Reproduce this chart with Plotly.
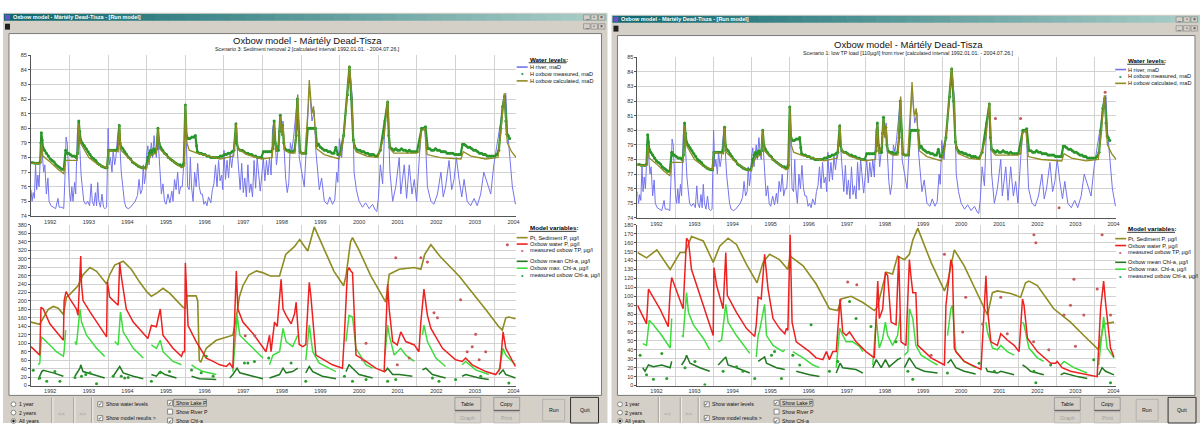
import plotly.graph_objects as go

W, H = 1203, 426
FONT = "Liberation Sans, Arial, sans-serif"

# ---------------- texts ----------------
WIN_TITLE = "Oxbow model - Mártély Dead-Tisza - [Run model]"
TITLE = "Oxbow model - Mártély Dead-Tisza"
SUB_L = "Scenario 3: Sediment removal 2 [calculated interval 1992.01.01. - 2004.07.26.]"
SUB_R = "Scenario 1: low TP load [110µg/l] from river [calculated interval 1992.01.01. - 2004.07.26.]"
WL_TITLE = "Water levels:"
WL_LEG = ["H river, maD", "H oxbow measured, maD", "H oxbow calculated, maD"]
MV_TITLE = "Model variables:"
MV_LEG = ["Pt, Sediment P, µg/l", "Oxbow water P, µg/l", "measured oxbow TP, µg/l",
          "Oxbow mean Chl-a, µg/l", "Oxbow max. Chl-a, µg/l", "measured oxbow Chl-a, µg/l"]
YEARS = list(range(1992, 2005))
YEAR_LABELS = [str(y) for y in YEARS]
T_START, T_END = 1992.0, 2004.57

# ---------------- water levels (both windows) ----------------
H_RIVER = [
(1992.00,75.8),(1992.03,75.0),(1992.06,75.6),(1992.09,75.2),(1992.12,77.5),(1992.15,75.8),(1992.18,76.8),
(1992.21,76.0),(1992.24,77.8),(1992.27,79.7),(1992.30,78.0),(1992.33,77.0),(1992.36,77.5),(1992.40,75.5),
(1992.44,76.6),(1992.47,75.0),(1992.52,74.7),(1992.58,74.6),(1992.64,74.5),(1992.70,75.2),(1992.73,74.6),
(1992.80,74.6),(1992.85,74.5),(1992.88,76.5),(1992.91,79.4),(1992.94,79.0),(1992.97,77.2),(1993.00,75.6),
(1993.03,75.0),(1993.06,76.0),(1993.09,75.0),(1993.13,76.3),(1993.16,75.5),(1993.20,79.5),(1993.23,80.5),
(1993.26,78.5),(1993.30,76.8),(1993.33,76.0),(1993.37,75.0),(1993.42,74.8),(1993.47,75.0),(1993.52,74.7),
(1993.56,76.2),(1993.59,75.0),(1993.63,74.7),(1993.67,75.6),(1993.70,74.7),(1993.73,76.3),(1993.76,75.0),
(1993.80,74.6),(1993.84,75.5),(1993.88,74.6),(1993.92,74.5),(1993.96,74.6),(1994.00,80.0),(1994.03,77.5),
(1994.06,78.0),(1994.10,77.0),(1994.13,78.5),(1994.17,77.5),(1994.20,78.0),(1994.24,79.3),(1994.28,80.3),
(1994.31,78.5),(1994.34,77.0),(1994.38,76.0),(1994.42,75.0),(1994.46,74.6),(1994.52,74.5),(1994.58,74.6),
(1994.65,74.8),(1994.70,75.0),(1994.76,75.4),(1994.80,76.5),(1994.84,75.5),(1994.88,75.8),(1994.91,77.5),
(1994.94,76.2),(1994.97,76.8),(1995.00,78.3),(1995.03,78.8),(1995.06,77.5),(1995.09,78.3),(1995.12,79.0),
(1995.15,78.0),(1995.19,79.5),(1995.22,78.5),(1995.25,78.0),(1995.28,79.8),(1995.31,78.5),(1995.34,77.0),
(1995.38,75.5),(1995.42,76.2),(1995.46,75.0),(1995.50,74.8),(1995.55,75.5),(1995.60,74.9),(1995.65,75.7),
(1995.68,75.0),(1995.72,76.5),(1995.76,75.8),(1995.80,77.0),(1995.84,75.5),(1995.88,76.0),(1995.92,76.0),
(1995.97,78.0),(1996.00,81.5),(1996.03,78.5),(1996.06,76.0),(1996.10,75.8),(1996.13,78.0),(1996.16,76.0),
(1996.20,75.0),(1996.24,77.0),(1996.28,76.0),(1996.32,77.6),(1996.36,76.0),(1996.40,75.5),(1996.44,75.5),
(1996.48,74.8),(1996.52,75.0),(1996.56,74.7),(1996.60,75.3),(1996.66,74.9),(1996.70,75.8),(1996.74,76.2),
(1996.78,77.5),(1996.82,76.0),(1996.86,77.8),(1996.90,76.4),(1996.94,76.8),(1996.97,75.8),(1997.00,78.5),
(1997.04,76.5),(1997.08,77.8),(1997.12,76.6),(1997.16,78.2),(1997.20,77.3),(1997.24,78.5),(1997.28,79.5),
(1997.32,80.4),(1997.35,78.3),(1997.38,77.0),(1997.42,75.8),(1997.46,77.6),(1997.50,75.6),(1997.54,76.6),
(1997.58,75.3),(1997.62,77.5),(1997.66,75.6),(1997.70,76.2),(1997.74,75.3),(1997.78,77.8),(1997.82,75.9),
(1997.86,78.0),(1997.90,76.5),(1997.94,75.7),(1997.98,76.8),(1998.02,78.0),(1998.06,76.4),(1998.10,77.8),
(1998.14,76.8),(1998.18,78.0),(1998.22,76.8),(1998.26,80.0),(1998.30,80.5),(1998.33,78.5),(1998.36,77.5),
(1998.40,78.5),(1998.43,79.8),(1998.46,80.9),(1998.50,79.5),(1998.53,80.5),(1998.56,78.5),(1998.60,76.5),
(1998.64,75.6),(1998.68,76.3),(1998.72,79.0),(1998.76,78.5),(1998.80,79.3),(1998.84,80.5),(1998.88,81.5),
(1998.91,82.3),(1998.95,78.0),(1999.02,77.0),(1999.08,76.0),(1999.12,78.0),(1999.17,80.5),(1999.21,82.8),
(1999.28,80.5),(1999.34,81.2),(1999.38,78.5),(1999.42,77.0),(1999.47,75.8),(1999.53,76.6),(1999.60,75.0),
(1999.68,74.8),(1999.74,75.3),(1999.81,74.8),(1999.87,75.1),(1999.92,77.0),(1999.95,76.3),(1999.99,79.3),
(2000.05,78.0),(2000.12,80.2),(2000.20,82.5),(2000.26,84.0),(2000.33,82.0),(2000.37,77.0),(2000.43,75.8),
(2000.50,75.0),(2000.59,74.6),(2000.67,74.9),(2000.76,74.5),(2000.85,74.8),(2000.92,74.4),(2000.96,74.3),
(2001.00,75.2),(2001.05,77.5),(2001.11,76.2),(2001.17,80.5),(2001.24,81.7),(2001.30,77.0),(2001.37,75.0),
(2001.45,76.0),(2001.54,78.0),(2001.58,75.5),(2001.67,77.5),(2001.73,75.2),(2001.80,77.5),(2001.87,75.5),
(2001.93,76.5),(2001.99,75.0),(2002.06,78.0),(2002.12,80.0),(2002.21,79.8),(2002.27,76.0),(2002.36,75.0),
(2002.44,74.8),(2002.53,75.5),(2002.62,77.0),(2002.68,75.3),(2002.74,76.0),(2002.83,77.8),(2002.90,75.8),
(2002.96,76.5),(2003.02,78.0),(2003.09,76.5),(2003.16,75.3),(2003.22,76.5),(2003.30,75.0),(2003.39,74.7),
(2003.48,75.2),(2003.56,74.7),(2003.65,75.5),(2003.73,77.0),(2003.82,76.3),(2003.91,75.5),(2003.99,77.5),
(2004.08,79.0),(2004.17,80.5),(2004.24,82.0),(2004.30,82.4),(2004.34,80.0),(2004.40,78.0),(2004.47,76.0),
(2004.55,74.8)]

H_OXBOW_CALC = [
(1992.00,77.6),(1992.25,77.6),(1992.27,79.0),(1992.31,78.1),(1992.50,77.7),(1992.70,77.2),(1992.85,76.9),
(1992.90,77.8),(1993.20,77.8),(1993.24,80.3),(1993.28,79.0),(1993.50,78.0),(1993.75,77.5),(1993.97,77.3),
(1994.00,78.5),(1994.26,78.4),(1994.29,80.2),(1994.33,78.5),(1994.60,77.8),(1994.80,77.4),(1994.98,77.2),
(1995.05,77.8),(1995.12,78.2),(1995.25,78.3),(1995.29,80.0),(1995.33,78.6),(1995.60,77.9),(1995.90,77.3),
(1995.97,77.4),(1996.00,81.6),(1996.04,79.0),(1996.10,78.5),(1996.30,78.3),(1996.60,78.1),(1996.90,77.9),
(1997.25,78.1),(1997.32,80.3),(1997.36,78.6),(1997.60,78.2),(1997.98,77.9),(1998.25,78.0),(1998.30,80.4),
(1998.34,78.4),(1998.42,79.0),(1998.46,80.8),(1998.50,79.5),(1998.53,80.3),(1998.57,78.5),(1998.70,78.3),
(1998.84,78.3),(1998.88,80.5),(1998.91,82.3),(1998.94,79.5),(1998.97,78.3),(1999.10,78.3),(1999.17,81.0),
(1999.21,83.3),(1999.25,81.5),(1999.28,81.0),(1999.32,81.5),(1999.36,80.0),(1999.40,78.6),(1999.60,78.2),
(1999.98,77.9),(2000.05,78.5),(2000.12,80.0),(2000.20,82.5),(2000.25,84.3),(2000.30,82.5),(2000.36,79.0),
(2000.42,78.4),(2000.70,78.1),(2000.99,78.0),(2001.15,79.5),(2001.24,81.9),(2001.30,78.6),(2001.40,78.3),
(2001.99,78.3),(2002.06,78.4),(2002.11,79.8),(2002.20,80.0),(2002.26,78.2),(2002.60,78.0),(2003.14,77.9),
(2003.20,78.4),(2003.40,78.1),(2003.78,77.9),(2004.10,78.0),(2004.18,80.0),(2004.26,82.4),(2004.31,80.0),
(2004.34,79.0),(2004.45,78.4),(2004.57,78.0)]

H_OXBOW_MEAS = [
(1992.00,77.65),(1992.05,77.65),(1992.10,77.6),(1992.15,77.6),(1992.20,77.6),(1992.24,77.7),(1992.26,79.0),
(1992.27,79.7),(1992.29,79.2),(1992.31,78.7),(1992.35,78.5),(1992.40,78.3),(1992.45,78.1),(1992.50,77.9),
(1992.55,77.8),(1992.60,77.7),(1992.65,77.5),(1992.70,77.4),(1992.75,77.3),(1992.80,77.2),(1992.85,77.2),
(1992.90,78.5),(1992.93,78.3),(1992.97,78.3),(1993.02,78.2),(1993.07,78.1),(1993.12,78.1),(1993.17,78.0),
(1993.21,78.3),(1993.24,80.5),(1993.26,79.8),(1993.29,79.2),(1993.33,79.0),(1993.38,78.8),(1993.43,78.6),
(1993.48,78.4),(1993.53,78.2),(1993.58,78.0),(1993.63,77.9),(1993.68,77.8),(1993.73,77.6),(1993.78,77.5),
(1993.83,77.4),(1993.88,77.35),(1993.93,77.3),(1993.97,77.3),(1994.01,78.5),(1994.05,78.5),(1994.10,78.5),
(1994.15,78.5),(1994.20,78.5),(1994.25,78.6),(1994.29,80.2),(1994.31,79.0),(1994.34,78.7),(1994.38,78.6),
(1994.43,78.4),(1994.48,78.2),(1994.53,78.0),(1994.58,77.9),(1994.63,77.7),(1994.68,77.6),(1994.73,77.5),
(1994.78,77.4),(1994.83,77.35),(1994.88,77.3),(1994.93,77.3),(1994.98,77.3),(1995.03,78.0),(1995.06,78.3),
(1995.10,78.5),(1995.14,78.2),(1995.18,78.6),(1995.22,78.4),(1995.26,78.6),(1995.29,80.0),(1995.32,79.0),
(1995.36,78.7),(1995.41,78.5),(1995.46,78.3),(1995.51,78.2),(1995.56,78.0),(1995.61,77.9),(1995.66,77.8),
(1995.71,77.7),(1995.76,77.6),(1995.81,77.5),(1995.86,77.5),(1995.91,77.4),(1995.96,77.6),(1996.00,81.6),
(1996.03,79.5),(1996.07,79.3),(1996.12,79.3),(1996.17,79.4),(1996.22,79.4),(1996.26,79.5),(1996.29,78.8),
(1996.31,78.4),(1996.36,78.3),(1996.41,78.3),(1996.46,78.2),(1996.51,78.2),(1996.56,78.1),(1996.61,78.1),
(1996.66,78.0),(1996.71,78.0),(1996.76,78.0),(1996.81,78.0),(1996.86,78.0),(1996.91,78.1),(1996.96,78.1),
(1997.01,78.2),(1997.06,78.2),(1997.11,78.3),(1997.16,78.3),(1997.21,78.4),(1997.26,78.5),(1997.31,80.3),
(1997.33,79.0),(1997.37,78.6),(1997.42,78.5),(1997.47,78.5),(1997.52,78.4),(1997.57,78.3),(1997.62,78.3),
(1997.67,78.2),(1997.72,78.2),(1997.77,78.1),(1997.82,78.1),(1997.87,78.0),(1997.92,78.0),(1997.97,78.0),
(1998.02,78.4),(1998.07,78.4),(1998.12,78.4),(1998.17,78.4),(1998.22,78.4),(1998.27,78.6),(1998.30,80.5),
(1998.33,79.0),(1998.37,78.5),(1998.41,78.5),(1998.44,79.8),(1998.46,80.9),(1998.49,80.0),(1998.52,80.2),
(1998.55,79.0),(1998.58,78.6),(1998.63,78.5),(1998.68,78.5),(1998.73,78.4),(1998.78,78.4),(1998.83,78.5),
(1998.87,79.5),(1998.90,82.0),(1998.93,80.0),(1998.97,78.4),(1999.02,78.3),(1999.07,78.3),(1999.12,78.3),
(1999.17,80.0),(1999.22,80.0),(1999.27,80.0),(1999.32,80.0),(1999.37,80.0),(1999.41,78.8),(1999.45,78.9),
(1999.50,78.7),(1999.55,78.6),(1999.60,78.5),(1999.65,78.5),(1999.70,78.4),(1999.75,78.4),(1999.80,78.3),
(1999.85,78.3),(1999.90,78.7),(1999.95,78.2),(2000.00,78.2),(2000.10,79.5),(2000.20,82.3),(2000.25,84.2),
(2000.30,82.0),(2000.35,79.2),(2000.38,78.8),(2000.42,78.6),(2000.47,78.5),(2000.52,78.5),(2000.57,78.4),
(2000.62,78.4),(2000.67,78.3),(2000.72,78.3),(2000.77,78.2),(2000.82,78.2),(2000.87,78.2),(2000.92,78.1),
(2000.97,78.1),(2001.05,78.5),(2001.17,80.5),(2001.24,81.8),(2001.27,79.5),(2001.30,78.7),(2001.35,78.6),
(2001.40,78.5),(2001.45,78.6),(2001.50,78.5),(2001.55,78.5),(2001.60,78.6),(2001.65,78.5),(2001.70,78.5),
(2001.75,78.4),(2001.80,78.5),(2001.85,78.4),(2001.90,78.4),(2001.95,78.4),(2002.00,78.4),(2002.12,80.0),
(2002.17,80.0),(2002.22,80.1),(2002.28,78.6),(2002.33,78.6),(2002.38,78.5),(2002.43,78.5),(2002.48,78.6),
(2002.53,78.5),(2002.58,78.5),(2002.63,78.4),(2002.68,78.4),(2002.73,78.4),(2002.78,78.3),(2002.83,78.3),
(2002.88,78.3),(2002.93,78.3),(2002.98,78.2),(2003.03,78.2),(2003.08,78.2),(2003.13,78.2),(2003.18,78.9),
(2003.22,78.9),(2003.27,78.8),(2003.32,78.7),(2003.37,78.7),(2003.42,78.6),(2003.47,78.5),(2003.52,78.5),
(2003.57,78.4),(2003.62,78.3),(2003.67,78.3),(2003.72,78.2),(2003.77,78.2),(2003.82,78.1),(2003.87,78.1),
(2003.92,78.1),(2003.97,78.1),(2004.02,78.1),(2004.07,78.2),(2004.12,78.5),(2004.17,80.0),(2004.22,81.5),
(2004.27,82.2),(2004.30,80.5),(2004.33,79.6),(2004.36,79.5),(2004.40,79.3)]

H_OXBOW_MEAS_R_EXTRA = [(2001.40,80.8),(2002.06,80.8),(2003.07,74.7),(2004.28,82.6)]

# ---------------- model variables, left window (scenario 3) ----------------
L_SED_P = [
(1992.00,150),(1992.23,145),(1992.32,160),(1992.45,180),(1992.58,187),(1992.71,183),(1992.84,168),
(1992.92,209),(1993.00,215),(1993.22,236),(1993.35,262),(1993.53,279),(1993.70,270),(1993.96,240),
(1994.04,262),(1994.17,285),(1994.39,294),(1994.60,275),(1994.82,244),(1995.00,222),(1995.12,211),
(1995.25,218),(1995.42,230),(1995.60,218),(1995.94,185),(1996.00,183),(1996.03,212),(1996.28,212),
(1996.32,200),(1996.36,60),(1996.40,55),(1996.54,88),(1996.80,107),(1997.00,112),(1997.23,119),
(1997.30,150),(1997.40,210),(1997.49,236),(1997.65,262),(1997.84,271),(1998.00,267),(1998.20,259),
(1998.44,259),(1998.60,310),(1998.83,329),(1998.96,345),(1999.17,318),(1999.34,375),(1999.60,320),
(1999.85,270),(2000.10,236),(2000.16,259),(2000.28,340),(2000.33,350),(2000.50,320),(2000.80,260),
(2001.19,197),(2001.28,263),(2001.54,275),(2001.93,279),(2002.10,275),(2002.20,310),(2002.36,333),
(2002.60,305),(2003.09,259),(2003.43,221),(2003.78,180),(2004.12,139),(2004.21,131),(2004.30,160),
(2004.38,162),(2004.55,158)]

L_WATER_P = [
(1992.00,92),(1992.23,72),(1992.26,185),(1992.32,181),(1992.49,146),(1992.66,127),(1992.84,107),
(1992.86,200),(1992.91,222),(1993.01,205),(1993.18,181),(1993.22,166),(1993.29,306),(1993.31,240),
(1993.35,201),(1993.53,174),(1993.78,139),(1993.96,115),(1993.98,245),(1994.04,209),(1994.26,190),
(1994.30,290),(1994.34,259),(1994.47,181),(1994.65,150),(1994.91,123),(1995.03,111),(1995.12,142),
(1995.25,139),(1995.35,181),(1995.42,119),(1995.68,88),(1995.90,69),(1995.94,80),(1995.98,80),
(1996.00,290),(1996.04,174),(1996.07,142),(1996.28,104),(1996.54,65),(1996.72,57),(1996.89,49),
(1997.06,45),(1997.15,53),(1997.23,41),(1997.32,271),(1997.36,181),(1997.49,150),(1997.75,123),
(1998.01,88),(1998.09,80),(1998.18,119),(1998.22,80),(1998.31,150),(1998.38,140),(1998.48,251),
(1998.53,181),(1998.61,166),(1998.74,146),(1998.83,170),(1998.87,197),(1998.92,130),(1998.95,97),
(1999.04,92),(1999.12,97),(1999.17,180),(1999.21,244),(1999.25,213),(1999.30,150),(1999.38,72),
(1999.81,49),(2000.07,41),(2000.12,120),(2000.16,200),(2000.20,271),(2000.24,279),(2000.29,270),
(2000.33,267),(2000.37,181),(2000.42,72),(2000.68,57),(2000.93,41),(2001.15,33),(2001.19,150),
(2001.24,240),(2001.28,181),(2001.37,104),(2001.49,96),(2001.58,127),(2001.71,104),(2001.93,96),
(2002.05,80),(2002.10,150),(2002.18,228),(2002.27,166),(2002.36,135),(2002.66,88),(2003.00,61),
(2003.17,57),(2003.26,65),(2003.43,49),(2003.78,33),(2004.04,26),(2004.15,40),(2004.23,127),
(2004.30,88),(2004.47,57),(2004.55,45)]

L_MEAS_TP = [
(1997.55,118),(1997.80,118),(2000.59,61),(2000.68,100),(2001.45,302),(2001.49,49),(2001.80,65),
(2002.10,302),(2002.27,292),(2002.44,172),(2002.53,160),(2003.13,203),(2003.30,80),(2003.43,92),
(2003.52,121),(2003.61,61),(2003.78,80),(2004.34,333)]

L_CHL_MAX = [
[(1992.19,49),(1992.23,53),(1992.27,115),(1992.32,111),(1992.49,96),(1992.66,80),(1992.84,69),(1992.86,80),(1992.90,131)],
[(1993.14,104),(1993.18,96),(1993.27,181),(1993.31,150),(1993.44,119),(1993.70,88),(1993.91,69)],
[(1994.17,104),(1994.26,96),(1994.32,174),(1994.39,127),(1994.65,88),(1994.91,65)],
[(1995.12,96),(1995.25,88),(1995.35,107),(1995.42,80),(1995.68,57),(1995.90,49)],
[(1996.16,49),(1996.28,41),(1996.46,33),(1996.80,26)],
[(1997.23,33),(1997.34,166),(1997.41,119),(1997.58,104),(1997.84,80),(1998.01,65)],
[(1998.18,49),(1998.27,72),(1998.44,80),(1998.53,135),(1998.61,104),(1998.78,92),(1998.91,119)],
[(1999.12,60),(1999.21,143),(1999.30,80),(1999.47,53),(1999.81,37),(1999.90,33)],
[(2000.16,104),(2000.24,166),(2000.33,162),(2000.42,88),(2000.68,49),(2000.85,41)],
[(2001.17,72),(2001.24,143),(2001.28,119),(2001.41,72),(2001.58,88),(2001.71,72),(2001.93,57)],
[(2002.14,119),(2002.18,143),(2002.27,104),(2002.49,65),(2002.74,45)],
[(2003.17,49),(2003.26,57),(2003.52,37),(2003.86,26)],
[(2004.12,33),(2004.23,88),(2004.30,72),(2004.55,49)]]

L_CHL_MEAN = [
[(1992.19,14),(1992.23,22),(1992.28,33),(1992.32,36),(1992.58,30),(1992.84,22)],
[(1993.14,22),(1993.27,41),(1993.29,49),(1993.35,33),(1993.61,26),(1993.91,18)],
[(1994.13,22),(1994.30,45),(1994.39,30),(1994.65,22),(1994.91,16)],
[(1995.12,26),(1995.25,22),(1995.35,33),(1995.47,26),(1995.77,18)],
[(1996.16,22),(1996.37,16),(1996.80,14)],
[(1997.15,18),(1997.23,26),(1997.34,41),(1997.41,30),(1997.75,22),(1998.01,16)],
[(1998.18,18),(1998.44,26),(1998.53,41),(1998.61,30),(1998.78,33),(1998.91,41)],
[(1999.12,30),(1999.21,45),(1999.30,33),(1999.55,22),(1999.90,16)],
[(2000.16,33),(2000.24,49),(2000.33,41),(2000.50,26),(2000.85,18)],
[(2001.17,33),(2001.24,41),(2001.37,26),(2001.54,26),(2001.88,22)],
[(2002.14,37),(2002.23,41),(2002.40,26),(2002.74,18)],
[(2003.17,22),(2003.26,26),(2003.61,18),(2003.86,14)],
[(2004.12,26),(2004.23,37),(2004.30,26),(2004.55,18)]]

L_MEAS_CHL = [
(1992.06,36),(1992.23,18),(1992.41,10),(1992.62,33),(1992.75,10),(1993.14,19),(1993.31,22),(1993.42,26),
(1993.53,30),(1993.70,4),(1994.13,22),(1994.34,22),(1994.43,18),(1994.52,19),(1995.12,10),(1995.34,30),
(1995.59,33),(1996.16,37),(1996.41,30),(1996.54,69),(1996.72,22),(1997.53,53),(1997.62,53),(1997.79,57),
(1998.16,65),(1998.74,53),(1999.12,10),(2000.12,22),(2000.33,10),(2000.68,14),(2001.24,10),(2001.45,14),
(2002.40,18),(2002.57,10),(2003.00,14),(2003.65,22),(2004.38,6)]

# ---------------- model variables, right window (scenario 1) ----------------
R_SED_P = [
(1992.00,149),(1992.24,143),(1992.51,152),(1992.86,130),(1993.12,149),(1993.25,149),(1993.42,167),
(1993.73,162),(1993.99,138),(1994.16,156),(1994.38,165),(1994.60,158),(1994.86,136),(1995.14,115),
(1995.30,138),(1995.47,147),(1995.73,141),(1995.95,130),(1996.01,145),(1996.35,134),(1996.69,114),
(1997.04,86),(1997.26,84),(1997.35,97),(1997.61,100),(1997.92,93),(1998.22,84),(1998.30,88),
(1998.53,127),(1998.70,125),(1998.83,145),(1999.01,141),(1999.14,147),(1999.23,163),(1999.36,176),
(1999.71,138),(2000.06,106),(2000.14,115),(2000.32,152),(2000.58,134),(2001.19,79),(2001.32,104),
(2001.45,106),(2001.80,103),(2002.06,99),(2002.19,115),(2002.28,117),(2002.50,112),(2002.93,86),
(2003.37,71),(2003.72,56),(2004.11,40),(2004.24,69),(2004.51,71)]

R_WATER_P = [
(1992.00,90),(1992.24,69),(1992.29,108),(1992.38,101),(1992.59,86),(1992.81,66),(1992.86,106),
(1992.90,121),(1993.07,101),(1993.20,86),(1993.29,165),(1993.34,162),(1993.42,130),(1993.64,101),
(1993.90,68),(1993.99,56),(1994.01,132),(1994.08,112),(1994.25,86),(1994.32,149),(1994.36,101),
(1994.60,82),(1994.86,64),(1995.08,55),(1995.12,68),(1995.17,99),(1995.25,97),(1995.34,147),
(1995.43,108),(1995.56,75),(1995.73,64),(1995.87,58),(1995.91,64),(1995.95,62),(1996.01,169),
(1996.06,71),(1996.17,49),(1996.52,38),(1996.69,31),(1996.87,29),(1996.96,38),(1997.04,29),
(1997.13,38),(1997.22,38),(1997.32,97),(1997.39,60),(1997.48,56),(1997.57,60),(1997.74,49),
(1998.00,38),(1998.22,31),(1998.31,117),(1998.35,75),(1998.44,86),(1998.51,127),(1998.57,123),
(1998.66,71),(1998.79,68),(1998.86,145),(1998.92,49),(1999.05,45),(1999.14,141),(1999.18,123),
(1999.23,104),(1999.31,104),(1999.36,45),(1999.71,31),(2000.06,23),(2000.10,90),(2000.19,128),
(2000.23,141),(2000.27,134),(2000.32,42),(2000.36,38),(2000.58,27),(2001.02,18),(2001.15,123),
(2001.19,86),(2001.28,49),(2001.45,45),(2001.54,58),(2001.71,51),(2001.89,45),(2002.02,38),
(2002.11,97),(2002.15,90),(2002.24,53),(2002.50,38),(2002.85,25),(2002.98,25),(2003.02,27),
(2003.15,20),(2003.37,16),(2004.07,10),(2004.16,86),(2004.24,117),(2004.29,93),(2004.42,42),
(2004.51,32)]

R_MEAS_TP = [
(1997.52,116),(1997.76,113),(1999.71,34),(2000.06,147),(2000.54,60),(2000.62,99),(2001.06,69),
(2001.54,99),(2001.71,58),(2002.40,49),(2002.41,169),(2002.46,160),(2002.80,40),(2003.20,79),
(2003.37,90),(2003.46,119),(2003.50,44),(2003.72,79),(2004.07,108),(2004.20,169),(2004.42,79)]

R_CHL_MAX = [
[(1992.14,47),(1992.24,45),(1992.31,73),(1992.42,68),(1992.64,56),(1992.86,42),(1992.90,75)],
[(1993.16,56),(1993.20,55),(1993.29,104),(1993.34,82),(1993.47,68),(1993.73,53),(1993.90,40)],
[(1994.12,49),(1994.21,51),(1994.32,91),(1994.38,71),(1994.60,56),(1994.86,42),(1994.95,36)],
[(1995.12,32),(1995.17,56),(1995.21,62),(1995.34,91),(1995.39,56),(1995.56,45),(1995.82,38),(1995.87,40)],
[(1996.08,38),(1996.35,31),(1996.61,23),(1996.78,20)],
[(1997.22,20),(1997.31,64),(1997.35,60),(1997.48,49),(1997.65,49),(1997.83,44),(1997.92,38)],
[(1998.18,23),(1998.27,75),(1998.35,42),(1998.44,53),(1998.51,71),(1998.57,56),(1998.70,45),(1998.83,56),(1998.90,80)],
[(1999.01,34),(1999.10,38),(1999.14,86),(1999.23,75),(1999.31,45),(1999.45,34),(1999.71,27),(1999.88,23)],
[(2000.14,56),(2000.23,86),(2000.27,90),(2000.32,53),(2000.36,38),(2000.58,27),(2000.88,20)],
[(2001.15,71),(2001.19,60),(2001.32,42),(2001.45,40),(2001.54,45),(2001.71,38),(2001.89,34)],
[(2002.11,71),(2002.15,68),(2002.28,42),(2002.50,31),(2002.67,27)],
[(2003.11,23),(2003.20,27),(2003.46,20),(2003.81,14)],
[(2004.11,23),(2004.17,49),(2004.24,77),(2004.33,42),(2004.51,31)]]

R_CHL_MEAN = [
[(1992.14,20),(1992.20,16),(1992.29,23),(1992.42,21),(1992.64,23),(1992.86,20),(1992.90,27)],
[(1993.16,23),(1993.25,29),(1993.29,34),(1993.38,25),(1993.64,20),(1993.90,16)],
[(1994.12,23),(1994.32,32),(1994.38,23),(1994.60,20),(1994.95,14)],
[(1995.17,27),(1995.34,32),(1995.39,25),(1995.65,20),(1995.87,18)],
[(1996.17,16),(1996.52,12),(1996.78,10)],
[(1997.22,14),(1997.32,25),(1997.39,20),(1997.74,18),(1997.92,14)],
[(1998.18,20),(1998.27,29),(1998.40,20),(1998.51,29),(1998.61,21),(1998.83,29),(1998.92,31)],
[(1999.01,20),(1999.14,31),(1999.23,25),(1999.31,20),(1999.53,16),(1999.88,14)],
[(2000.14,25),(2000.23,29),(2000.36,20),(2000.58,16),(2000.88,13)],
[(2001.15,20),(2001.19,16),(2001.45,14),(2001.54,16),(2001.89,12)],
[(2002.11,23),(2002.19,21),(2002.32,16),(2002.67,12)],
[(2003.11,12),(2003.20,14),(2003.55,10),(2003.81,8)],
[(2004.11,12),(2004.20,20),(2004.29,16),(2004.51,12)]]

R_MEAS_CHL = [
(1992.07,34),(1992.24,12),(1992.42,7),(1992.64,36),(1992.77,8),(1993.25,20),(1993.51,27),(1993.77,1),
(1994.25,16),(1994.60,21),(1994.77,16),(1995.08,8),(1995.52,34),(1995.60,38),(1995.78,8),(1996.08,34),
(1996.26,23),(1996.56,68),(1997.04,16),(1997.26,27),(1997.57,94),(1997.74,75),(1998.13,66),(1998.79,49),
(1999.10,16),(1999.23,7),(2000.14,14),(2000.97,25),(2001.37,16),(2002.41,16),(2002.46,3),(2002.85,23),
(2003.98,29),(2004.42,3)]

# ---------------- styles ----------------
C_RIVER = "#7474ee"
C_MEAS = "#2a962a"
C_CALC = "#8f8c22"
C_SED = "#8f8c22"
C_WP = "#ee2020"
C_TP = "#c65a5a"
C_CMAX = "#3ddc3d"
C_CMEAN = "#217a21"
C_MCHL = "#2a9e2a"
GRID = "#d2d2d2"
FACE = "#d4d0c8"


def X(p):
    return p / W


def Y(p):
    return 1 - p / H


def xy(pairs):
    return [p[0] for p in pairs], [p[1] for p in pairs]


def seg_xy(segments):
    xs, ys = [], []
    for i, seg in enumerate(segments):
        if i:
            xs.append(None)
            ys.append(None)
        for t, v in seg:
            xs.append(t)
            ys.append(v)
    return xs, ys


fig = go.Figure()


def add_line(pairs, color, width, xa, ya, segmented=False):
    xs, ys = seg_xy(pairs) if segmented else xy(pairs)
    fig.add_trace(go.Scatter(x=xs, y=ys, mode="lines", line=dict(color=color, width=width),
                             xaxis=xa, yaxis=ya, showlegend=False, hoverinfo="skip",
                             connectgaps=False))


def add_pts(pairs, color, size, xa, ya, symbol="circle"):
    xs, ys = xy(pairs)
    fig.add_trace(go.Scatter(x=xs, y=ys, mode="markers",
                             marker=dict(color=color, size=size, symbol=symbol, line=dict(width=0)),
                             xaxis=xa, yaxis=ya, showlegend=False, hoverinfo="skip"))


def add_dense_pts(pairs, color, xa, ya):
    # measured daily water levels: dense dotted band
    xs, ys = xy(pairs)
    fig.add_trace(go.Scatter(x=xs, y=ys, mode="lines+markers",
                             line=dict(color=color, width=2.2),
                             marker=dict(color=color, size=3, line=dict(width=0)),
                             xaxis=xa, yaxis=ya, showlegend=False, hoverinfo="skip"))


# upper panels (water levels)
for xa, ya, extra in (("x", "y", False), ("x3", "y3", True)):
    add_line(H_RIVER, C_RIVER, 1, xa, ya)
    add_dense_pts(H_OXBOW_MEAS, C_MEAS, xa, ya)
    add_line(H_OXBOW_CALC, C_CALC, 1.3, xa, ya)
    if extra:
        add_pts(H_OXBOW_MEAS_R_EXTRA, C_TP, 3, xa, ya)

# lower panels (model variables)
for (sed, wp, tp, cmax, cmean, mchl, xa, ya) in (
        (L_SED_P, L_WATER_P, L_MEAS_TP, L_CHL_MAX, L_CHL_MEAN, L_MEAS_CHL, "x2", "y2"),
        (R_SED_P, R_WATER_P, R_MEAS_TP, R_CHL_MAX, R_CHL_MEAN, R_MEAS_CHL, "x4", "y4")):
    add_line(sed, C_SED, 1.6, xa, ya)
    add_line(cmax, C_CMAX, 1.5, xa, ya, segmented=True)
    add_line(cmean, C_CMEAN, 1.5, xa, ya, segmented=True)
    add_line(wp, C_WP, 1.5, xa, ya)
    add_pts(tp, C_TP, 3, xa, ya)
    add_pts(mchl, C_MCHL, 3, xa, ya)

TICKFONT = dict(size=5.5, color="#333", family=FONT)


def xcfg(x0, x1, anchor):
    return dict(domain=[X(x0), X(x1)], range=[T_START, T_END], anchor=anchor,
                tickmode="array", tickvals=[y + 0.5 for y in YEARS], ticktext=YEAR_LABELS,
                ticks="", showgrid=False, showline=True, linecolor="#555", linewidth=1,
                tickfont=TICKFONT, zeroline=False, fixedrange=True,
                minor=dict(tickmode="linear", tick0=1992, dtick=1, showgrid=True,
                           gridcolor=GRID, gridwidth=1, ticks=""))


def ycfg(ytop, ybot, rng, dtick, anchor):
    return dict(domain=[Y(ybot), Y(ytop)], range=rng, dtick=dtick, tick0=0, anchor=anchor,
                showgrid=True, gridcolor=GRID, gridwidth=1, showline=True, linecolor="#555",
                linewidth=1, ticks="outside", ticklen=2, tickcolor="#555", tickfont=TICKFONT,
                zeroline=False, fixedrange=True)


shapes, annots = [], []


def rect(x0, y0, x1, y1, fill, line=None, lw=0, layer="below"):
    shapes.append(dict(type="rect", xref="paper", yref="paper", x0=X(x0), x1=X(x1),
                       y0=Y(y1), y1=Y(y0), fillcolor=fill, layer=layer,
                       line=dict(color=line or fill, width=lw)))


def seg(x0, y0, x1, y1, color, w=1, layer="below", dash="solid"):
    shapes.append(dict(type="line", xref="paper", yref="paper", x0=X(x0), x1=X(x1),
                       y0=Y(y0), y1=Y(y1), layer=layer, line=dict(color=color, width=w, dash=dash)))


def circ(cx, cy, r, fill, line):
    shapes.append(dict(type="circle", xref="paper", yref="paper", x0=X(cx - r), x1=X(cx + r),
                       y0=Y(cy + r), y1=Y(cy - r), fillcolor=fill, layer="above",
                       line=dict(color=line, width=0.8)))


def text(x, y, s, size=6, color="#000", anchor="left", family=FONT):
    annots.append(dict(x=X(x), y=Y(y), xref="paper", yref="paper", text=s, showarrow=False,
                       xanchor=anchor, yanchor="middle", borderpad=0,
                       font=dict(size=size, color=color, family=family)))


def window(x0, x1, tb0, white, ctrl_ox, btns, title_x, title_y, subtitle):
    # frame
    rect(x0, tb0 - 1, x1, H, FACE)
    # title bar gradient
    n = 40
    c0, c1 = (14, 104, 110), (170, 206, 200)
    step = (x1 - x0 - 2) / n
    for i in range(n):
        f = i / (n - 1)
        c = tuple(int(c0[k] + (c1[k] - c0[k]) * f) for k in range(3))
        rect(x0 + 1 + i * step, tb0, x0 + 1 + (i + 1) * step + 0.5, tb0 + 7, "rgb(%d,%d,%d)" % c)
    rect(x0 + 2, tb0 + 1, x0 + 7, tb0 + 6, "#6a4fc8")
    text(x0 + 9, tb0 + 3.6, "<b>" + WIN_TITLE + "</b>", 5.5, "white")
    for k, s in enumerate(["_", "▫", "×"]):
        bx = x1 - 24 + k * 7.5
        rect(bx, tb0 + 1, bx + 6.5, tb0 + 6.5, FACE, "#808080", 0.6)
        rect(bx, tb0 + 10, bx + 6.5, tb0 + 15.5, FACE, "#808080", 0.6)
        text(bx + 3.3, tb0 + 3.6, s, 5, "#000", "center")
        text(bx + 3.3, tb0 + 12.6, s, 5, "#000", "center")
    # menu row icon
    rect(x0 + 2, tb0 + 10, x0 + 7, tb0 + 16, "#202020")
    # chart area
    wx0, wy0, wx1 = white
    rect(wx0, wy0, wx1, 398, "white", "#7a7a7a", 1)
    # titles
    text(title_x, title_y, TITLE, 9.5, "#111", "center")
    text(title_x, title_y + 8.5, subtitle, 5.3, "#222", "center")
    # controls: radio buttons
    ox = ctrl_ox
    for k, s in enumerate(["1 year", "2 years", "All years"]):
        cy = 407 + k * 8.5
        circ(ox + 13.5, cy, 2.4, "white", "#707070")
        if k == 2:
            circ(ox + 13.5, cy, 0.9, "#000", "#000")
        text(ox + 18, cy, s, 5.2, "#111")
    for sx in (52, 74, 92):
        seg(ox + sx, 400, ox + sx, H, "#8a8a8a", 0.8)
        seg(ox + sx + 1, 400, ox + sx + 1, H, "#ffffff", 0.8)
    text(ox + 62, 417, "&lt;&lt;", 6, "#9a9a9a", "center")
    text(ox + 83, 417, "&gt;&gt;", 6, "#9a9a9a", "center")
    # check boxes
    boxes = [(98, 407, "Show water levels", True), (98, 421, "Show model results &gt;", True),
             (168, 405.5, "Show Lake P", True), (168, 414.5, "Show River P", False),
             (168, 423.5, "Show Chl-a", True)]
    for bxx, by, s, chk in boxes:
        rect(ox + bxx, by - 2.5, ox + bxx + 5, by + 2.5, "white", "#707070", 0.8, layer="above")
        if chk:
            text(ox + bxx + 2.6, by, "✓", 5.5, "#000", "center", "DejaVu Sans")
        text(ox + bxx + 7, by, s, 5.2, "#111")
    rect(ox + 174, 402, ox + 207, 409, "rgba(0,0,0,0)", "#555", 0.6, layer="above")
    # buttons
    (tx, cx, rx, qx) = btns
    for bx, s1, s2 in ((tx, "Table", "Graph"), (cx, "Copy", "Print")):
        rect(bx - 13, 400, bx + 13, 413, FACE, "#909090", 0.8)
        seg(bx - 13, 413.5, bx + 13, 413.5, "#404040", 0.8)
        text(bx, 406.5, s1, 5.3, "#111", "center")
        rect(bx - 13, 415, bx + 13, 426, FACE, "#b0b0b0", 0.6)
        text(bx, 421, s2, 5.3, "#a0a0a0", "center")
    rect(rx - 11, 402, rx + 11, 424, FACE, "#a0a0a0", 0.6)
    text(rx, 413, "Run", 5.3, "#111", "center")
    rect(qx - 14, 400, qx + 14, 426, FACE, "#303030", 1)
    text(qx, 413, "Quit", 5.3, "#111", "center")


window(3, 609, 11, (9, 31, 603), 0, (469, 508, 555, 586), 308, 38.5, SUB_L)
window(613, 1203, 13, (619, 33, 1198), 608, (1070, 1110, 1150, 1185), 911, 42.5, SUB_R)


def legend(xs, ytitle, title, items, tw):
    text(xs + 12, ytitle, "<b>" + title + "</b>", 6.2, "#000")
    seg(xs + 12, ytitle + 3.6, xs + 12 + tw, ytitle + 3.6, "#000", 0.8, layer="above")
    for y, label, kind, color in items:
        if kind == "line":
            seg(xs, y, xs + 11, y, color, 1.6, layer="above")
        else:
            text(xs + 5.5, y, "•", 7, color, "center")
        text(xs + 12, y, label, 5.6, "#111")


wl_kinds = [("line", C_RIVER), ("dot", C_MEAS), ("line", C_CALC)]
mv_kinds = [("line", C_SED), ("line", C_WP), ("dot", C_TP), ("line", C_CMEAN), ("line", C_CMAX), ("dot", C_MCHL)]
for xs, wy, wys, my, mys in ((518, 57, (65, 72, 79), 228, (238, 244.5, 251, 262, 269, 276)),
                             (1118, 58.5, (67.5, 74.5, 81.5), 229, (239, 246, 253, 263, 270, 277))):
    legend(xs, wy, WL_TITLE, [(wys[i], WL_LEG[i], wl_kinds[i][0], wl_kinds[i][1]) for i in range(3)], 38)
    legend(xs, my, MV_TITLE, [(mys[i], MV_LEG[i], mv_kinds[i][0], mv_kinds[i][1]) for i in range(6)], 48)

fig.update_layout(
    width=W, height=H, margin=dict(l=0, r=0, t=0, b=0),
    paper_bgcolor="white", plot_bgcolor="rgba(0,0,0,0)", showlegend=False,
    font=dict(family=FONT),
    xaxis=xcfg(31, 517.5, "y"), yaxis=ycfg(53, 216, [74, 85], 1, "x"),
    xaxis2=xcfg(31, 517.5, "y2"), yaxis2=ycfg(225, 388, [0, 380], 20, "x2"),
    xaxis3=xcfg(639, 1119, "y3"), yaxis3=ycfg(55, 218, [74, 85], 1, "x3"),
    xaxis4=xcfg(639, 1119, "y4"), yaxis4=ycfg(225, 388, [0, 180], 10, "x4"),
    shapes=shapes, annotations=annots,
)

fig.write_html("out.html", config={"displayModeBar": False})
